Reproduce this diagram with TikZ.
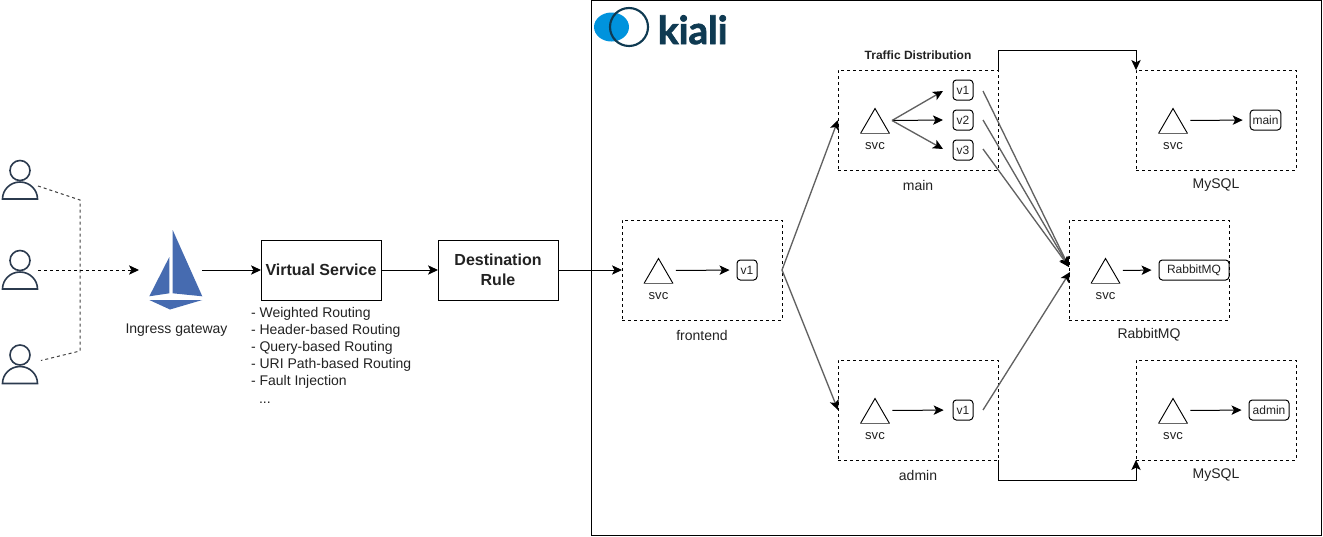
\documentclass[tikz,border=0pt]{standalone}
\usepackage{fontspec}
\setmainfont{Liberation Sans}
\newfontfamily\logofont[BoldFeatures={FakeBold=2}]{Lato}
\usetikzlibrary{arrows.meta,calc}
\definecolor{person}{HTML}{2B3A4E}
\definecolor{sail}{HTML}{466BB0}
\definecolor{kdark}{HTML}{0F3A52}
\definecolor{kblue}{HTML}{0093DD}
\definecolor{txt}{HTML}{222222}
\tikzset{
  x=0.75pt,y=-0.75pt,
  every node/.style={inner sep=0pt,outer sep=0pt,text=txt},
  wire/.style={line width=0.75pt,-{Stealth[length=7.5pt,width=7pt,inset=1.8pt,color=black]}},
  diag/.style={wire,line width=1pt,draw=black!62},
  dwire/.style={wire,dash pattern=on 2.25pt off 2.25pt},
  dashline/.style={line width=0.75pt,dash pattern=on 2.25pt off 2.25pt,draw=black!75},
  zone/.style={draw=black,line width=0.75pt,dash pattern=on 2.25pt off 2.25pt,minimum width=120pt,minimum height=75pt},
  rulebox/.style={draw=black,line width=0.75pt,fill=white,minimum width=90pt,minimum height=45pt,align=center,font=\bfseries\fontsize{12}{15}\selectfont},
  pod/.style={draw=black,line width=0.75pt,rounded corners=2.5pt,minimum height=15pt,font=\fontsize{9}{11}\selectfont},
  lab/.style={font=\fontsize{10.5}{13}\selectfont},
  svclab/.style={font=\fontsize{9.8}{12}\selectfont},
  hit/.style={minimum width=22.5pt,minimum height=18.75pt},
  inner arrow/.style={wire,shorten <=1.7pt,shorten >=5.6pt},
}
\newcommand{\svcicon}[3]{%
  \node[hit] (#1) at (#2,#3) {};
  \draw[line width=0.7pt,line join=miter] (#2-14.5,#3+13) -- (#2,#3-12) -- (#2+14.5,#3+13);
  \draw[black!60,line width=1.1pt] (#2-14.5,#3+13) -- (#2+14.5,#3+13);
  \node[svclab] (#1-lab) at (#2,#3+26) {svc};
}
\newcommand{\usericon}[3]{%
  \node[minimum width=27pt,minimum height=30pt] (#1) at (#2,#3) {};
  \draw[person,line width=1.2pt] (#2,#3-9.5) circle[radius=10];
  \draw[person,line width=1.2pt] (#2-17.5,#3+19) arc[start angle=180,end angle=360,x radius=17.5,y radius=17] -- cycle;
}
\begin{document}
\begin{tikzpicture}
\useasboundingbox (0,0) rectangle (1323,536);
% Kiali frame
\node[draw=black,line width=0.75pt,minimum width=547.5pt,minimum height=401.25pt] (frame) at (956,267.5) {};
% logo
\fill[kblue] (611.5,27) ellipse[x radius=17.5,y radius=14.5];
\draw[kdark,line width=1.6pt] (629,27) circle[radius=19];
\node[text=kdark,font=\logofont\bfseries\fontsize{29}{30}\selectfont,anchor=base west] (kiali) at (658,44) {kiali};
% users
\usericon{u1}{20}{180}
\usericon{u2}{20}{270}
\usericon{u3}{20}{364.5}
\coordinate (j1) at (80,200);
\coordinate (j2) at (80,351);
% gateway
\node[minimum width=39.75pt,minimum height=60pt] (gate) at (175.5,270) {};
\fill[sail] (172.7,230) -- (172.7,293.3) -- (202.3,296.3) -- cycle;
\fill[sail] (169.3,257) -- (169.3,293.3) -- (149.3,296.3) -- cycle;
\fill[sail] (149.3,300) -- (202.3,300) -- (170,309.5) -- cycle;
\node[lab] (gatelab) at (176.5,330.5) {Ingress gateway};
\draw[dashline] ($(u1.east)+(0,6)$) -- (j1) -- (j2) -- ($(u3.east)+(3,-4)$);
\draw[dwire] (u2.east) -- ($(gate.west)+(-10,0)$);
% rules
\node[rulebox] (vs) at (321,270) {Virtual Service};
\node[rulebox] (dr) at (498,270) {Destination\\Rule};
\draw[wire] (gate.east) -- (vs.west);
\draw[wire] (vs.east) -- (dr.west);
\node[anchor=north west,align=left,font=\fontsize{10.5}{12.75}\selectfont] (list) at (251,307)
  {- Weighted Routing\\- Header-based Routing\\- Query-based Routing\\- URI Path-based Routing\\- Fault Injection\\[1pt]\hspace*{6pt}...};
% frontend
\node[zone] (fe) at (702,270) {};
\node[lab] (felab) at (702,335) {frontend};
\svcicon{fs}{658.5}{270.5}
\node[pod,minimum width=15pt] (fv) at (747,270) {v1};
\draw[wire] (dr.east) -- (fe.west);
\draw[inner arrow] (fs.east) -- (fv.west);
% main
\node[zone] (main) at (918,120) {};
\node[lab] (mainlab) at (918,185) {main};
\node[font=\bfseries\fontsize{9}{11}\selectfont] (traffic) at (918,55) {Traffic Distribution};
\svcicon{ms}{875}{120.5}
\node[pod,minimum width=15pt] (m1) at (963,90) {v1};
\node[pod,minimum width=15pt] (m2) at (963,120) {v2};
\node[pod,minimum width=15pt] (m3) at (963,150) {v3};
\draw[diag] ($(ms.east)+(2,0)$) -- ($(m1.west)+(-10,1)$);
\draw[wire] ($(ms.east)+(2,0)$) -- ($(m2.west)+(-10,0)$);
\draw[diag] ($(ms.east)+(2,0)$) -- ($(m3.west)+(-10,-1)$);
% admin
\node[zone] (admin) at (918,410) {};
\node[lab] (adminlab) at (918,475) {admin};
\svcicon{as}{875}{410.5}
\node[pod,minimum width=15pt] (a1) at (963,410) {v1};
\draw[wire,shorten <=1.7pt,shorten >=7pt] (as.east) -- (a1.west);
% rabbit
\node[zone] (rb) at (1149,270) {};
\node[lab] (rblab) at (1149,335) {RabbitMQ};
\svcicon{rs}{1105.5}{270.5}
\node[pod,minimum width=52.5pt] (rv) at (1194,270) {RabbitMQ};
\draw[inner arrow] (rs.east) -- (rv.west);
% mysql top
\node[zone] (my1) at (1216,120) {};
\node[lab] (my1lab) at (1216,185) {MySQL};
\svcicon{t1}{1173}{120.5}
\node[pod,minimum width=23pt] (d1) at (1265.5,120) {main};
\draw[inner arrow] (t1.east) -- (d1.west);
% mysql bottom
\node[zone] (my2) at (1216,410) {};
\node[lab] (my2lab) at (1216,475) {MySQL};
\svcicon{t2}{1173}{410.5}
\node[pod,minimum width=30pt] (d2) at (1269,410) {admin};
\draw[inner arrow] (t2.east) -- (d2.west);
% inter-zone
\draw[diag] (fe.east) -- (main.west);
\draw[diag] (fe.east) -- (admin.west);
\draw[diag] ($(m1.east)+(10,1)$) -- ($(rb.west)+(0,-3)$);
\draw[diag] ($(m2.east)+(10,0)$) -- ($(rb.west)+(0,-3)$);
\draw[diag] ($(m3.east)+(10,-1)$) -- ($(rb.west)+(0,-3)$);
\draw[diag] ($(a1.east)+(10,0)$) -- ($(rb.west)+(1,2)$);
\draw[wire] (main.north east) -- ++(0,-20) -| (my1.north west);
\draw[wire] (admin.south east) -- ++(0,20) -| (my2.south west);
\end{tikzpicture}
\end{document}
